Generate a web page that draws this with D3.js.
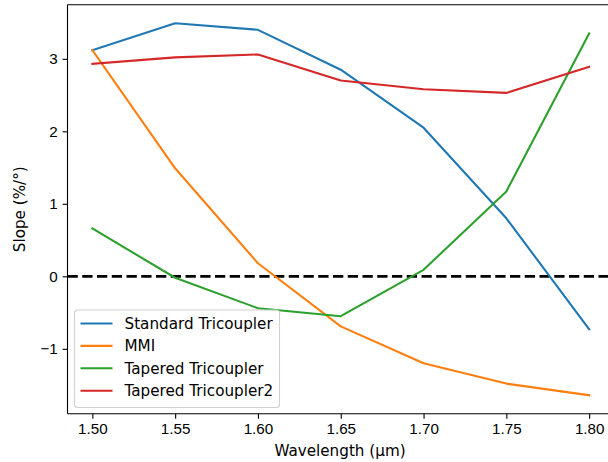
<!DOCTYPE html>
<html>
<head>
<meta charset="utf-8">
<script src="https://cdn.jsdelivr.net/npm/d3@7"></script>
<style>
  body { margin: 0; background: #fff; }
  svg { display: block; font-family: "DejaVu Sans", sans-serif; }
  .axis text { font-size: 15.2px; fill: #000; }
  .axis path, .axis line { stroke: #000; stroke-width: 1.1px; }
</style>
</head>
<body>
<script>
// wavelengths (um) and slope values (%/deg)
var wavelengths = [1.50, 1.55, 1.60, 1.65, 1.70, 1.75, 1.80];
var standardTri = [3.12, 3.49, 3.40, 2.85, 2.05, 0.80, -0.73];
var mmi = [3.12, 1.49, 0.18, -0.69, -1.20, -1.48, -1.64];
var taperedTri = [0.66, -0.02, -0.44, -0.55, 0.09, 1.17, 3.35];
var taperedTri2 = [2.93, 3.02, 3.06, 2.70, 2.58, 2.53, 2.89];

var seriesNames = ["Standard Tricoupler", "MMI", "Tapered Tricoupler", "Tapered Tricoupler2"];
var seriesValues = [standardTri, mmi, taperedTri, taperedTri2];
var colors = ["#1f77b4", "#ff7f0e", "#2ca02c", "#d62728"];
var xTicks = [1.50, 1.55, 1.60, 1.65, 1.70, 1.75, 1.80];
var yTicks = [-1, 0, 1, 2, 3];

var w = 608, h = 462;
// plot area (right spine falls just outside the picture)
var pLeft = 67.5, pRight = 614, pTop = 4.7, pBottom = 413.8;

var svg = d3.select("body").append("svg")
    .attr("width", w)
    .attr("height", h);

// matplotlib style 5% margins
var x = d3.scaleLinear().domain([1.485, 1.815]).range([pLeft, pRight]);
var yMin = -1.64, yMax = 3.49, pad = (yMax - yMin) * 0.05;
var y = d3.scaleLinear().domain([yMin - pad, yMax + pad]).range([pBottom, pTop]);

// zero reference line
svg.append("line")
    .attr("x1", pLeft).attr("x2", pRight)
    .attr("y1", y(0)).attr("y2", y(0))
    .style("stroke", "#000")
    .style("stroke-width", 2.78)
    .style("stroke-dasharray", "10.3,4.45");

var line = d3.line()
    .x(function(d, i){ return x(wavelengths[i]); })
    .y(function(d){ return y(d); });

svg.selectAll(".series")
    .data(seriesValues)
    .enter()
    .append("path")
    .attr("class", "series")
    .attr("d", line)
    .style("fill", "none")
    .style("stroke", function(d, i){ return colors[i]; })
    .style("stroke-width", 2.08)
    .style("stroke-linejoin", "round")
    .style("stroke-linecap", "square");

// axes
var xAxis = d3.axisBottom(x).tickValues(xTicks).tickFormat(d3.format(".2f"))
    .tickSize(4.9).tickPadding(4.9);
svg.append("g")
    .attr("class", "axis")
    .attr("transform", "translate(0," + pBottom + ")")
    .call(xAxis)
    .call(function(g){ g.select(".domain").attr("d", "M" + pLeft + ",0H" + pRight); });

var yAxis = d3.axisLeft(y).tickValues(yTicks).tickFormat(function(d){ return d < 0 ? "\u2212" + (-d) : d; })
    .tickSize(4.9).tickPadding(4.9);
svg.append("g")
    .attr("class", "axis")
    .attr("transform", "translate(" + pLeft + ",0)")
    .call(yAxis)
    .call(function(g){ g.select(".domain").attr("d", "M0," + pTop + "V" + pBottom); });

// top and right spines
svg.append("line")
    .attr("x1", pLeft).attr("x2", pRight)
    .attr("y1", pTop).attr("y2", pTop)
    .style("stroke", "#000").style("stroke-width", 1.1);
svg.append("line")
    .attr("x1", pRight).attr("x2", pRight)
    .attr("y1", pTop).attr("y2", pBottom)
    .style("stroke", "#000").style("stroke-width", 1.1);

// axis labels
svg.append("text")
    .attr("x", 340)
    .attr("y", 456)
    .attr("text-anchor", "middle")
    .style("font-size", "15.2px")
    .text("Wavelength (\u03bcm)");

svg.append("text")
    .attr("transform", "translate(25," + ((pTop + pBottom) / 2) + ") rotate(-90)")
    .attr("text-anchor", "middle")
    .style("font-size", "15.2px")
    .text("Slope (%/\u00b0)");

// legend
var legend = svg.append("g").attr("transform", "translate(74.5,310)");
legend.append("rect")
    .attr("width", 205)
    .attr("height", 97.5)
    .attr("rx", 3)
    .style("fill", "rgba(255,255,255,0.8)")
    .style("stroke", "#d0d0d0")
    .style("stroke-width", 1.1);

var rows = legend.selectAll(".row")
    .data(seriesNames)
    .enter()
    .append("g")
    .attr("class", "row")
    .attr("transform", function(d, i){ return "translate(0," + (13.5 + i * 22.4) + ")"; });

rows.append("line")
    .attr("x1", 6).attr("x2", 38)
    .style("stroke", function(d, i){ return colors[i]; })
    .style("stroke-width", 2.08);

rows.append("text")
    .attr("x", 50)
    .attr("dy", "0.35em")
    .style("font-size", "15.2px")
    .text(function(d){ return d; });
</script>
</body>
</html>
